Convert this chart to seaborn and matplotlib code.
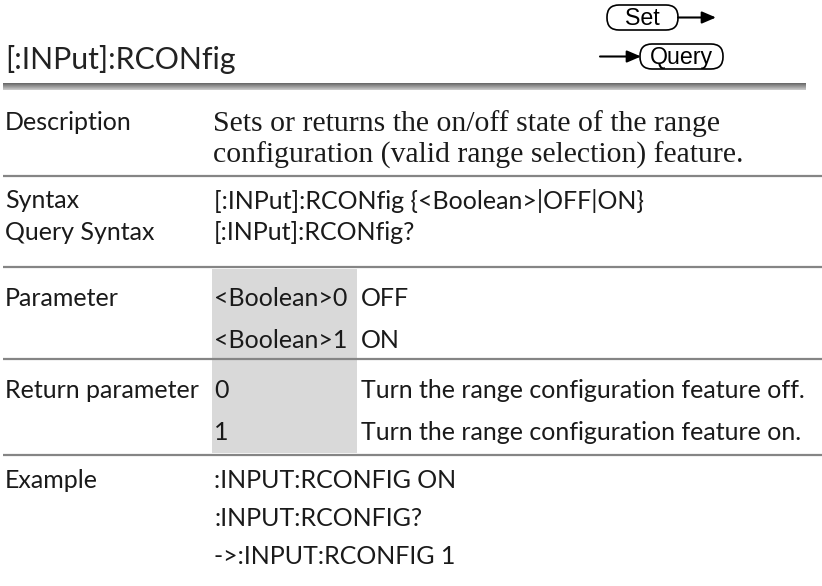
import matplotlib
matplotlib.use("Agg")
import matplotlib.pyplot as plt
from matplotlib.patches import FancyBboxPatch, Rectangle
import numpy as np
import seaborn as sns

# page content
title = "[:INPut]:RCONfig"
row_labels = ["Description", "Syntax", "Query Syntax", "Parameter", "Return parameter", "Example"]
description_lines = ["Sets or returns the on/off state of the range",
                     "configuration (valid range selection) feature."]
syntax_text = "[:INPut]:RCONfig {<Boolean>|OFF|ON}"
query_text = "[:INPut]:RCONfig?"
param_values = ["<Boolean>0", "<Boolean>1"]
param_meaning = ["OFF", "ON"]
return_values = ["0", "1"]
return_meaning = ["Turn the range configuration feature off.",
                  "Turn the range configuration feature on."]
example_lines = [":INPUT:RCONFIG ON", ":INPUT:RCONFIG?", "->:INPUT:RCONFIG 1"]

sns.set_theme(style="white")
plt.rcParams['font.family'] = ['Lato', 'DejaVu Sans']

W, H = 822, 586
fig = plt.figure(figsize=(8.22, 5.86), dpi=100)
ax = fig.add_axes([0, 0, 1, 1])
ax.set_xlim(0, W)
ax.set_ylim(H, 0)
ax.axis('off')

renderer = fig.canvas.get_renderer()


def fit(s, family, target, base=12):
    t = ax.text(0, 0, s, fontsize=base, family=family)
    w = t.get_window_extent(renderer).width
    t.remove()
    return base * target / w


sans = "Lato"
serif = "Liberation Serif"
sans_size = 0.5 * (fit("Return parameter", sans, 198) + fit(return_meaning[0], sans, 436))
title_size = fit(title, sans, 230)
serif_size = fit(description_lines[0], serif, 506)
btn_size = fit("Query", "Liberation Sans", 63)

ink = "#1a1a1a"
rule = "#858585"

# Set / Query buttons
for (bx, by, bw, bh, label) in [(607, 5, 71, 25, "Set"), (640, 44, 83, 25, "Query")]:
    ax.add_patch(FancyBboxPatch((bx, by), bw, bh,
                                boxstyle="round,pad=0,rounding_size=12",
                                fc="white", ec="black", lw=1.2))
    ax.text(bx + bw / 2, by + bh / 2 + 1, label, ha="center", va="center",
            fontsize=btn_size, family="Liberation Sans", color="black")
arrow = dict(arrowstyle="-|>,head_length=0.7,head_width=0.3", color="black",
             lw=1.5, shrinkA=0, shrinkB=0)
ax.annotate("", xy=(716, 17.5), xytext=(678, 17.5), arrowprops=arrow)
ax.annotate("", xy=(641, 56.5), xytext=(600, 56.5), arrowprops=arrow)

# title and heavy rule
ax.text(5, 59, title, ha="left", va="center", fontsize=title_size, color="#222222")
grad = np.linspace(0.42, 0.78, 7).reshape(-1, 1)
ax.imshow(grad, cmap="gray", vmin=0, vmax=1, extent=[3, 805, 90, 83],
          aspect="auto", interpolation="bilinear")
ax.set_xlim(0, W)
ax.set_ylim(H, 0)

# shaded value column
ax.add_patch(Rectangle((212, 269), 145, 184, fc="#d9d9d9", ec="none"))

# row separators
for y in [176, 267, 359, 455]:
    ax.plot([3, W], [y, y], color=rule, lw=1.6, solid_capstyle="butt")

c1, c2, c3 = 5, 214, 361
label_y = [123, 201, 233, 298, 390, 481]
for lab, y in zip(row_labels, label_y):
    ax.text(c1, y, lab, ha="left", va="center", fontsize=sans_size, color=ink)

for line, y in zip(description_lines, [124, 155]):
    ax.text(c2 - 1, y, line, ha="left", va="center", fontsize=serif_size,
            family=serif, color=ink)

ax.text(c2, 201, syntax_text, ha="left", va="center", fontsize=sans_size, color=ink)
ax.text(c2, 233, query_text, ha="left", va="center", fontsize=sans_size, color=ink)

for v, m, y in zip(param_values, param_meaning, [298, 340]):
    ax.text(c2, y, v, ha="left", va="center", fontsize=sans_size, color=ink)
    ax.text(c3, y, m, ha="left", va="center", fontsize=sans_size, color=ink)

for v, m, y in zip(return_values, return_meaning, [390, 432]):
    ax.text(c2, y, v, ha="left", va="center", fontsize=sans_size, color=ink)
    ax.text(c3, y, m, ha="left", va="center", fontsize=sans_size, color=ink)

for line, y in zip(example_lines, [481, 519, 556]):
    ax.text(c2, y, line, ha="left", va="center", fontsize=sans_size, color=ink)

fig.savefig("out.png", dpi=100)
